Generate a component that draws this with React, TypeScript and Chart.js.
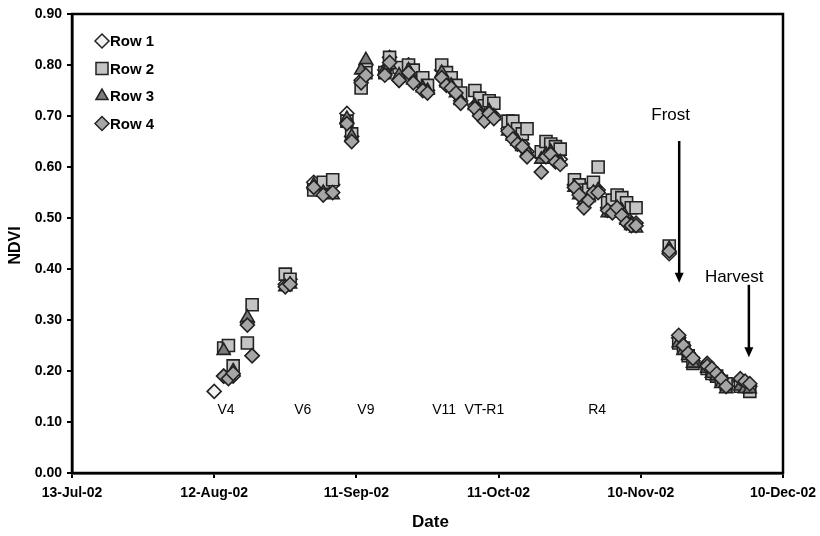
import React, { useEffect, useRef } from "react";
import { Chart, registerables } from "chart.js";

Chart.register(...registerables);

// Days after 13-Jul-02
const DAYS = [
  30, 32, 33, 34, 37, 38, 45, 46, 51, 53,
  55, 58, 59, 61, 62, 66, 67, 69, 71, 72,
  74, 75, 78, 79, 80, 81, 82, 85, 86, 87,
  88, 89, 92, 93, 94, 95, 96, 99, 100, 101,
  102, 103, 106, 107, 108, 109, 110, 111, 113, 114,
  115, 116, 117, 118, 119, 126, 128, 129, 130, 131,
  134, 135, 136, 137, 138, 141, 142, 143,
];

const ROW1 = [
  0.16, 0.19, null, 0.19, 0.295, 0.23, 0.37, 0.38, 0.57, 0.55,
  0.565, 0.705, 0.66, 0.77, 0.8, 0.79, 0.815, 0.77, 0.8, 0.78,
  0.76, 0.75, 0.79, 0.77, 0.765, 0.745, 0.73, 0.72, 0.71, 0.695,
  0.72, 0.7, 0.675, 0.66, 0.65, 0.645, 0.63, 0.62, 0.63, 0.635,
  0.62, 0.615, 0.565, 0.55, 0.56, 0.545, 0.56, 0.555, 0.52, 0.515,
  0.525, 0.53, 0.5, 0.49, 0.49, 0.43, 0.265, 0.25, 0.235, 0.22,
  0.215, 0.2, 0.195, 0.185, 0.17, 0.18, 0.175, 0.17,
];
const ROW2 = [
  null, 0.245, 0.25, 0.21, 0.255, 0.33, 0.39, 0.38, 0.555, 0.57,
  0.575, 0.69, 0.665, 0.755, 0.785, 0.785, 0.815, 0.795, 0.8, 0.79,
  0.775, 0.76, 0.8, 0.785, 0.775, 0.76, 0.745, 0.75, 0.735, 0.72,
  0.73, 0.725, 0.69, 0.69, 0.675, 0.665, 0.675, 0.63, 0.65, 0.645,
  0.64, 0.635, 0.575, 0.565, 0.555, 0.555, 0.57, 0.6, 0.53, 0.535,
  0.545, 0.54, 0.53, 0.52, 0.52, 0.445, 0.255, 0.245, 0.23, 0.215,
  0.205, 0.195, 0.19, 0.18, 0.175, 0.17, 0.17, 0.16,
];
const ROW3 = [
  null, 0.24, null, 0.2, 0.305, null, 0.365, 0.37, 0.565, 0.55,
  0.545, 0.695, 0.66, 0.79, 0.81, 0.79, 0.8, 0.78, 0.79, 0.77,
  0.755, 0.75, 0.785, 0.765, 0.76, 0.745, 0.73, 0.72, 0.71, 0.7,
  0.71, 0.7, 0.67, 0.66, 0.65, 0.64, 0.63, 0.615, 0.625, 0.63,
  0.615, 0.61, 0.56, 0.545, 0.535, 0.54, 0.55, 0.555, 0.51, 0.51,
  0.52, 0.515, 0.495, 0.485, 0.48, 0.44, 0.255, 0.24, 0.23, 0.215,
  0.205, 0.195, 0.19, 0.175, 0.165, 0.17, 0.165, 0.165,
];
const ROW4 = [
  null, 0.19, 0.185, 0.195, 0.29, 0.23, 0.365, 0.37, 0.56, 0.545,
  0.55, 0.685, 0.65, 0.765, 0.78, 0.78, 0.805, 0.77, 0.785, 0.765,
  0.75, 0.745, 0.775, 0.76, 0.755, 0.745, 0.725, 0.715, 0.7, 0.69,
  0.705, 0.695, 0.67, 0.655, 0.645, 0.64, 0.62, 0.59, 0.62, 0.625,
  0.61, 0.605, 0.56, 0.545, 0.52, 0.535, 0.55, 0.55, 0.515, 0.51,
  0.52, 0.505, 0.49, 0.485, 0.485, 0.435, 0.27, 0.25, 0.235, 0.225,
  0.21, 0.205, 0.195, 0.185, 0.17, 0.185, 0.18, 0.175,
];

const X_TICK_DAYS = [0, 30, 60, 90, 120, 150];
const X_TICK_LABELS = ["13-Jul-02", "12-Aug-02", "11-Sep-02", "11-Oct-02", "10-Nov-02", "10-Dec-02"];

const STAGE_LABELS = ["V4", "V6", "V9", "V11", "VT-R1", "R4"];
const STAGE_DAYS = [32.5, 48.7, 62, 78.5, 87, 110.8];
const STAGE_Y = 0.124;

const ROW_NAMES = ["Row 1", "Row 2", "Row 3", "Row 4"];

const toPoints = (vals: (number | null)[]) =>
  DAYS.map((d, i) => ({ x: d, y: vals[i] })).filter((p) => p.y !== null);

const STYLES = [
  { pointStyle: "rectRot", radius: 7, fill: "#f2f2f2" },
  { pointStyle: "rect", radius: 8.5, fill: "#c4c4c4" },
  { pointStyle: "triangle", radius: 7.5, fill: "#7c7c7c" },
  { pointStyle: "rectRot", radius: 7, fill: "#a6a6a6" },
];
const EDGE = "#222";

function drawMarker(ctx: CanvasRenderingContext2D, style: string, x: number, y: number, r: number) {
  ctx.beginPath();
  if (style === "rect") {
    const s = Math.SQRT1_2 * r;
    ctx.rect(x - s, y - s, 2 * s, 2 * s);
  } else if (style === "rectRot") {
    ctx.moveTo(x - r, y);
    ctx.lineTo(x, y - r);
    ctx.lineTo(x + r, y);
    ctx.lineTo(x, y + r);
    ctx.closePath();
  } else {
    const a = (Math.PI * 2) / 3;
    ctx.moveTo(x, y - r);
    ctx.lineTo(x + Math.sin(a) * r, y - Math.cos(a) * r);
    ctx.lineTo(x - Math.sin(a) * r, y - Math.cos(a) * r);
    ctx.closePath();
  }
  ctx.fill();
  ctx.stroke();
}

function arrow(ctx: CanvasRenderingContext2D, x: number, y0: number, y1: number) {
  ctx.beginPath();
  ctx.moveTo(x, y0);
  ctx.lineTo(x, y1 - 8);
  ctx.lineWidth = 2.5;
  ctx.strokeStyle = "#000";
  ctx.stroke();
  ctx.beginPath();
  ctx.moveTo(x - 4.5, y1 - 10);
  ctx.lineTo(x + 4.5, y1 - 10);
  ctx.lineTo(x, y1);
  ctx.closePath();
  ctx.fillStyle = "#000";
  ctx.fill();
}

const overlay = {
  id: "overlay",
  afterDraw(chart: any) {
    const { ctx, chartArea: a, scales } = chart;
    const xs = scales.x;
    const ys = scales.y;
    ctx.save();
    // frame
    ctx.strokeStyle = "#000";
    ctx.lineWidth = 2.5;
    ctx.strokeRect(a.left, a.top, a.right - a.left, a.bottom - a.top);

    // legend
    ROW_NAMES.forEach((name, i) => {
      const st = STYLES[i];
      const cx = a.left + 30;
      const cy = a.top + 27 + i * 27.5;
      ctx.fillStyle = st.fill;
      ctx.strokeStyle = EDGE;
      ctx.lineWidth = 1.5;
      drawMarker(ctx, st.pointStyle, cx, cy, st.pointStyle === "rect" ? 8.5 : 7);
      ctx.fillStyle = "#000";
      ctx.font = "bold 15px 'Liberation Sans', Arial, sans-serif";
      ctx.textAlign = "left";
      ctx.textBaseline = "middle";
      ctx.fillText(name, cx + 8, cy + 1);
    });

    // growth stages
    ctx.font = "14px 'Liberation Sans', Arial, sans-serif";
    ctx.textAlign = "center";
    ctx.textBaseline = "middle";
    ctx.fillStyle = "#000";
    STAGE_LABELS.forEach((lab, i) => {
      ctx.fillText(lab, xs.getPixelForValue(STAGE_DAYS[i]), ys.getPixelForValue(STAGE_Y));
    });

    // Frost & Harvest
    ctx.font = "17px 'Liberation Sans', Arial, sans-serif";
    ctx.fillText("Frost", xs.getPixelForValue(126.3), ys.getPixelForValue(0.702));
    ctx.fillText("Harvest", xs.getPixelForValue(139.7), ys.getPixelForValue(0.384));
    arrow(ctx, xs.getPixelForValue(128.1), ys.getPixelForValue(0.651), ys.getPixelForValue(0.373));
    arrow(ctx, xs.getPixelForValue(142.8), ys.getPixelForValue(0.369), ys.getPixelForValue(0.227));

    // axis titles
    ctx.font = "bold 17px 'Liberation Sans', Arial, sans-serif";
    ctx.fillText("Date", (a.left + a.right) / 2 + 3, 522);
    ctx.save();
    ctx.translate(16, (a.top + a.bottom) / 2 + 2);
    ctx.rotate(-Math.PI / 2);
    ctx.font = "bold 16px 'Liberation Sans', Arial, sans-serif";
    ctx.fillText("NDVI", 0, 0);
    ctx.restore();
    ctx.restore();
  },
};

export default function App() {
  const ref = useRef<HTMLCanvasElement>(null);
  useEffect(() => {
    if (!ref.current) return;
    const rows = [ROW1, ROW2, ROW3, ROW4];
    const chart = new Chart(ref.current, {
      type: "scatter",
      data: {
        datasets: rows.map((vals, i) => ({
          label: ROW_NAMES[i],
          data: toPoints(vals),
          pointStyle: STYLES[i].pointStyle as any,
          pointRadius: STYLES[i].radius,
          pointHoverRadius: STYLES[i].radius,
          backgroundColor: STYLES[i].fill,
          borderColor: EDGE,
          borderWidth: 1.6,
          order: 3 - i,
        })),
      },
      options: {
        animation: false,
        responsive: false,
        devicePixelRatio: 1,
        layout: { padding: { left: 0, top: 14, right: 37, bottom: 0 } },
        plugins: { legend: { display: false }, tooltip: { enabled: false } },
        scales: {
          x: {
            type: "linear",
            min: 0,
            max: 150,
            afterFit: (s: any) => { s.height = 63; s.paddingLeft = 0; s.paddingRight = 0; },
            afterBuildTicks: (s: any) => { s.ticks = X_TICK_DAYS.map((v) => ({ value: v })); },
            ticks: {
              callback: (v: any) => X_TICK_LABELS[X_TICK_DAYS.indexOf(Number(v))] ?? "",
              color: "#000",
              font: { family: "'Liberation Sans', Arial, sans-serif", size: 14, weight: "bold" },
              padding: 7,
              maxRotation: 0,
              autoSkip: false,
            },
            grid: { display: true, drawOnChartArea: false, drawTicks: true, tickLength: 5, color: "#000", lineWidth: 2 },
            border: { display: true, color: "#000", width: 2.5 },
          },
          y: {
            type: "linear",
            min: 0,
            max: 0.9,
            afterFit: (s: any) => { s.width = 72; s.paddingTop = 0; s.paddingBottom = 0; },
            ticks: {
              stepSize: 0.1,
              callback: (v: any) => Number(v).toFixed(2),
              color: "#000",
              font: { family: "'Liberation Sans', Arial, sans-serif", size: 14, weight: "bold" },
              padding: 5,
            },
            grid: { display: true, drawOnChartArea: false, drawTicks: true, tickLength: 5, color: "#000", lineWidth: 2 },
            border: { display: true, color: "#000", width: 2.5 },
          },
        },
      },
      plugins: [overlay],
    });
    return () => chart.destroy();
  }, []);
  return (
    <div style={{ position: "fixed", left: 0, top: 0, width: 820, height: 536, background: "#fff" }}>
      <canvas ref={ref} width={820} height={536} />
    </div>
  );
}
